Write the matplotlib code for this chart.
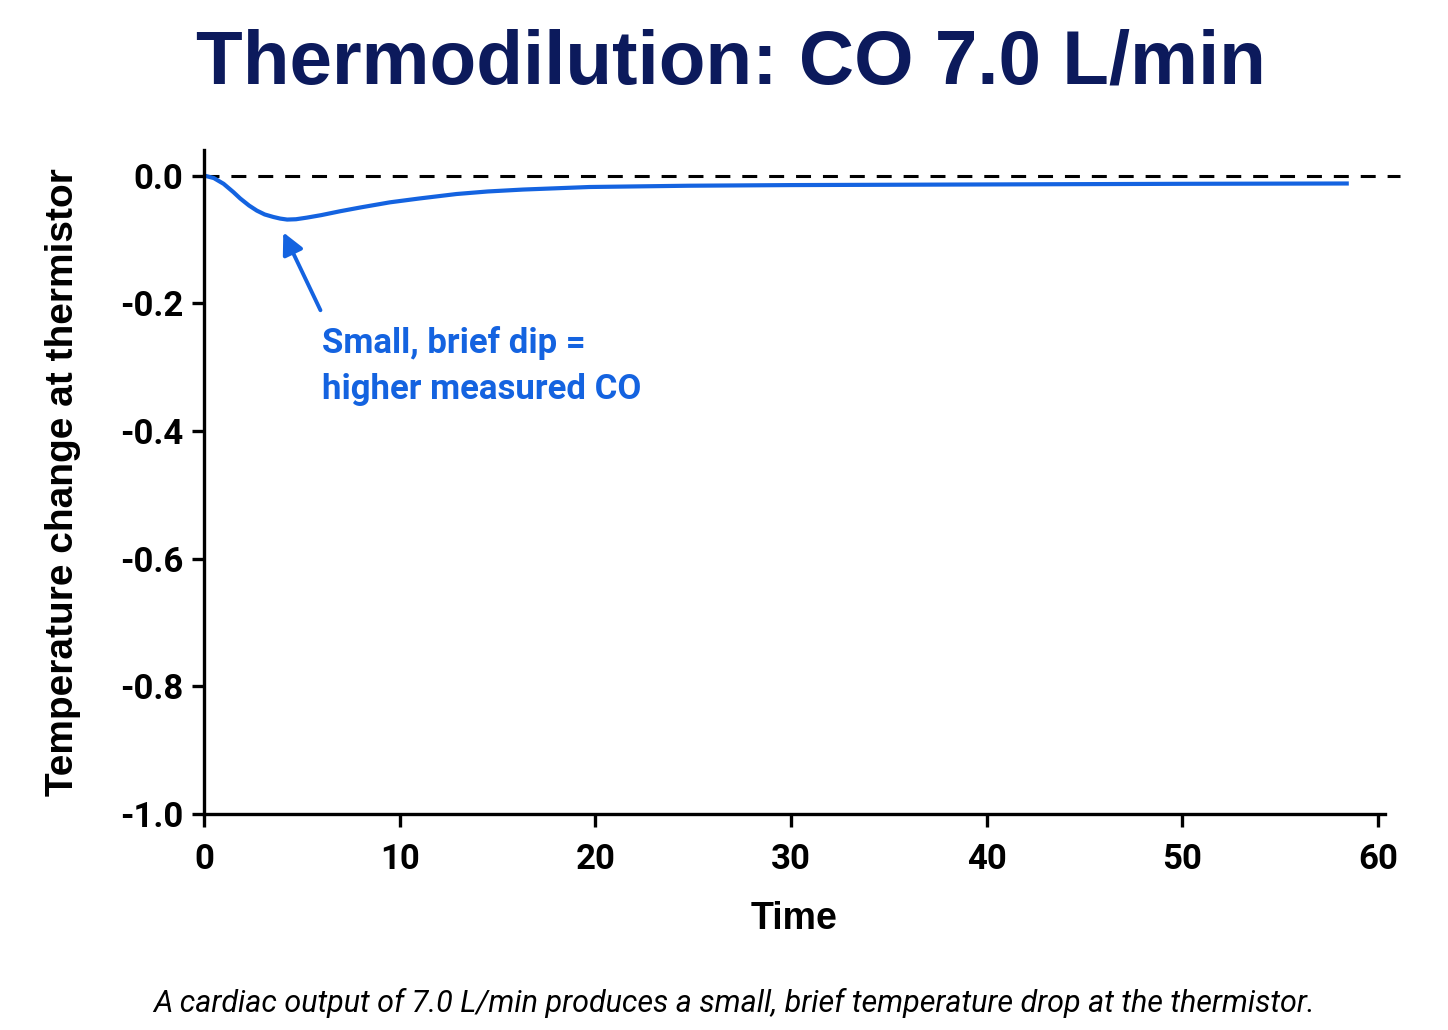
import matplotlib
matplotlib.use("Agg")
import matplotlib.pyplot as plt

# thermistor curve
time_s = [0, 0.5, 1.0, 1.5, 1.85, 2.3, 2.7, 3.1, 3.55, 3.9, 4.25, 4.7, 5.25,
          6.0, 6.95, 8.0, 9.5, 11.0, 12.9, 14.5, 16.3, 19.7, 24.8, 30, 40,
          50, 58.5]
temp_change = [0.0, -0.004, -0.013, -0.026, -0.036, -0.047, -0.055, -0.061,
               -0.065, -0.0675, -0.069, -0.0685, -0.066, -0.062, -0.056,
               -0.050, -0.042, -0.036, -0.029, -0.025, -0.022, -0.018,
               -0.016, -0.015, -0.014, -0.013, -0.0125]

x_ticks = [0, 10, 20, 30, 40, 50, 60]
y_ticks = [0.0, -0.2, -0.4, -0.6, -0.8, -1.0]

title = "Thermodilution: CO 7.0 L/min"
caption = ("A cardiac output of 7.0 L/min produces a small, brief temperature "
           "drop at the thermistor.")
note = "Small, brief dip =\nhigher measured CO"

BLUE = "#1463e0"
NAVY = "#0c1a5c"
NARROW = ["Roboto", "DejaVu Sans"]
WIDE = ["Liberation Sans", "DejaVu Sans"]

plt.rcParams["axes.unicode_minus"] = False

fig = plt.figure(figsize=(14.48, 10.30), dpi=100)
ax = fig.add_axes([0.1409, 0.2097, 0.8156, 0.6447])

ax.plot(time_s, temp_change, color=BLUE, linewidth=3.0,
        solid_capstyle="butt", solid_joinstyle="round")
ax.plot([0, 61.1], [0, 0], color="black", linewidth=2.2,
        linestyle=(0, (4.9, 3.9)), clip_on=False, zorder=1)

ax.set_xlim(0, 60.35)
ax.set_ylim(-1.0, 0.04)
ax.set_xticks(x_ticks)
ax.set_yticks(y_ticks)
ax.set_yticklabels([f"{v:.1f}" for v in y_ticks])

for side in ("top", "right"):
    ax.spines[side].set_visible(False)
for side in ("left", "bottom"):
    ax.spines[side].set_linewidth(2.4)
ax.tick_params(axis="both", direction="out", length=9, width=2.4)
ax.tick_params(axis="x", pad=12)
ax.tick_params(axis="y", pad=6)
for lab in ax.get_xticklabels() + ax.get_yticklabels():
    lab.set_family(NARROW)
    lab.set_fontweight("bold")
    lab.set_fontsize(25)

ax.set_xlabel("Time", fontsize=27, fontweight="bold", family=WIDE, labelpad=18)
ax.set_ylabel("Temperature change at thermistor", fontsize=28,
              fontweight="bold", family=WIDE, labelpad=28)

ax.annotate("", xy=(4.05, -0.089), xytext=(5.95, -0.211),
            arrowprops=dict(arrowstyle="-|>,head_length=1.3,head_width=0.65",
                            color=BLUE, linewidth=2.8, shrinkA=0, shrinkB=0))
ax.text(6.05, -0.236, note, color=BLUE, fontsize=25, fontweight="bold",
        family=NARROW, va="top", ha="left", linespacing=1.5)

fig.text(0.505, 0.938, title, ha="center", va="center", color=NAVY,
         fontsize=55, fontweight="bold", family=WIDE)
fig.text(0.507, 0.026, caption, ha="center", va="center", color="black",
         fontsize=22, style="italic", family=NARROW)

fig.savefig("out.png", dpi=100)
plt.close(fig)
